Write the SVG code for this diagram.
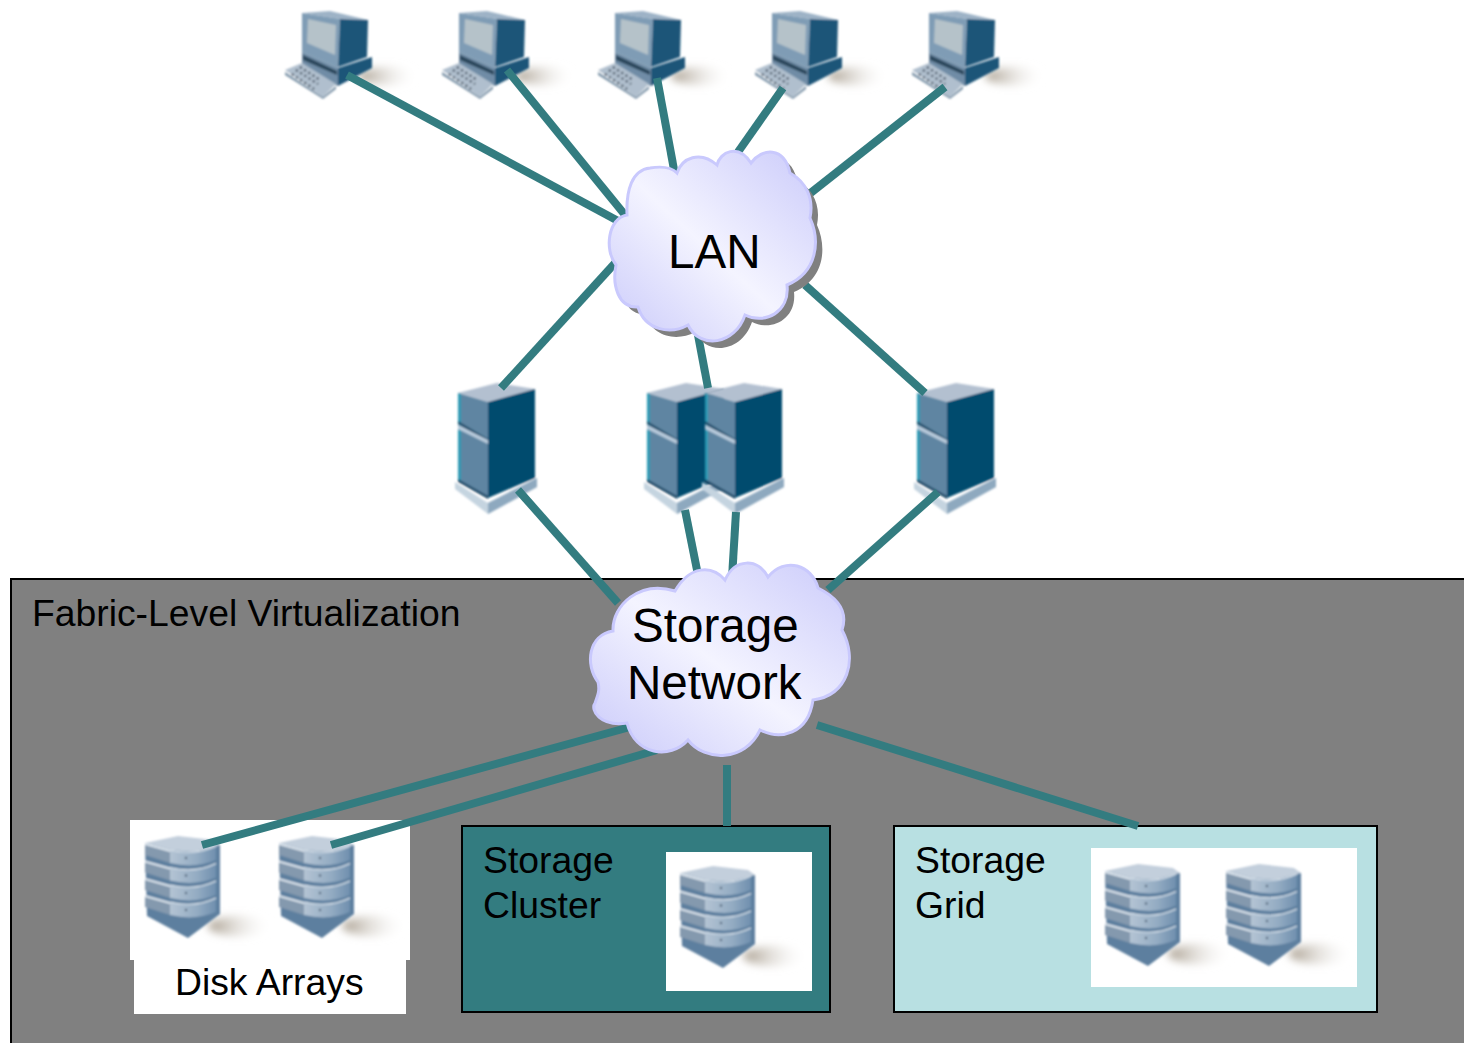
<svg xmlns="http://www.w3.org/2000/svg" xmlns:xlink="http://www.w3.org/1999/xlink" width="1464" height="1043" viewBox="0 0 1464 1043">
<style>
text{font-family:"Liberation Sans",Arial,sans-serif;fill:#000}
.big{font-size:47.6px}.mid{font-size:37.3px}
.conn line{stroke:#337c80;stroke-width:8;fill:none}
.box{stroke:#000;stroke-width:2}
.cloud{fill:url(#cg);stroke:#c9c9fd;stroke-width:3}
</style>
<defs>
<linearGradient id="cg" x1="0.95" y1="0.05" x2="0.1" y2="0.9"><stop offset="0" stop-color="#cfcffb"/><stop offset="0.55" stop-color="#f4f4ff"/><stop offset="1" stop-color="#d2d2fb"/></linearGradient>
<linearGradient id="dg" x1="0" x2="1" y1="0" y2="0"><stop offset="0" stop-color="#b4c4d4"/><stop offset="0.6" stop-color="#93abc2"/><stop offset="1" stop-color="#6f8fae"/></linearGradient>
<linearGradient id="sh" x1="0" x2="1" y1="0" y2="0"><stop offset="0" stop-color="#a59a8a"/><stop offset="1" stop-color="#fff" stop-opacity="0"/></linearGradient>
<filter id="soft" x="-10%" y="-10%" width="120%" height="120%"><feGaussianBlur stdDeviation="0.8"/></filter>
<filter id="blur" x="-30%" y="-60%" width="160%" height="220%"><feGaussianBlur stdDeviation="4"/></filter>
<g id="computer">
<ellipse cx="388" cy="76" rx="30" ry="9" fill="url(#sh)" filter="url(#blur)"/>
<g filter="url(#soft)">
<polygon points="302,13 340,19 368,20 330,11" fill="#9db2c6"/>
<polygon points="302,13 340,19 338,68 302,52" fill="#7f9cb5"/>
<polygon points="308,19 336,25 335,55 307,43" fill="#b5c2c9"/>
<polygon points="340,19 368,20 367,57 338,67" fill="#1f5478"/>
<polygon points="302,52 338,68 338,86 302,72" fill="#6f8ca6"/>
<polygon points="303,55 337,71 337,75 303,60" fill="#2a465c"/>
<polygon points="338,68 372,57 372,68 338,86" fill="#1f5478"/>
<polygon points="285,70 302,63 336,84 323,97" fill="#b0bfce"/>
<polygon points="285,72 323,97 336,86 336,89 323,99 285,75" fill="#7d94a8"/>
<path d="M296 70l22 14M292 74l22 15M300 67l20 13" stroke="#2e3d4d" stroke-width="2.2" stroke-dasharray="2 3" fill="none"/>
</g>
</g>
<g id="server" filter="url(#soft)">
<polygon points="458,393 497,383 535,389 488,402" fill="#b3c0d0"/>
<polygon points="455,482 488,503 537,478 537,487 488,514 455,489" fill="#c5d4e0"/>
<polygon points="488,503 537,478 537,487 488,514" fill="#8ea9bf"/>
<polygon points="458,393 488,402 488,498 458,480" fill="#5f85a2"/>
<polygon points="458,393 461,394 461,481 458,480" fill="#2b99b4"/>
<polygon points="458,421 488,439 488,442 458,424" fill="#234f6c"/>
<polygon points="458,425 488,440 488,444 458,429" fill="#b9cbdc"/>
<polygon points="458,479 488,496 488,499 458,482" fill="#1f4a68"/>
<polygon points="488,402 535,389 535,478 488,498" fill="#024b6e"/>
</g>
<g id="disk">
<ellipse cx="240" cy="926" rx="32" ry="10" fill="url(#sh)" filter="url(#blur)"/>
<g filter="url(#soft)">
<polygon points="145,845 220,845 220,914 188,938 147,916" fill="#5d7f9f"/>
<g id="layer">
<polygon points="145,843 170,850 170,863 145,855" fill="#8499ae"/>
<polygon points="145,843 170,850 170,852 145,845" fill="#dfe7ef"/>
<path d="M170 850Q195 856 216 846L216 860Q195 869 170 863Z" fill="url(#dg)"/>
<path d="M170 850Q195 856 216 846" stroke="#e4ecf3" stroke-width="1.2" fill="none"/>
<circle cx="186" cy="858" r="1.2" fill="#4d6377"/>
</g>
<use xlink:href="#layer" y="17.5"/>
<use xlink:href="#layer" y="35"/>
<use xlink:href="#layer" y="52"/>
<polygon points="145,843 178,836 213,840 220,845 195,852 170,850" fill="#c3cfdc"/>
</g>
</g>
</defs>
<rect width="1464" height="1043" fill="#fff"/>
<rect id="panel" class="box" x="11" y="579" width="1460" height="480" fill="#808080"/>
<g id="fabric-label"><text class="mid" x="32" y="626">Fabric-Level Virtualization</text></g>
<g id="disk-arrays"><rect x="130" y="820" width="280" height="140" fill="#fff"/><rect x="134" y="960" width="272" height="54" fill="#fff"/><use xlink:href="#disk"/><use xlink:href="#disk" x="134"/><text class="mid" x="175" y="995">Disk Arrays</text></g>
<g id="storage-cluster"><rect class="box" x="462" y="826" width="368" height="186" fill="#337c80"/><rect x="666" y="852" width="146" height="139" fill="#fff"/><use xlink:href="#disk" x="535" y="30"/><text class="mid" x="483" y="873">Storage</text><text class="mid" x="483" y="918">Cluster</text></g>
<g id="storage-grid"><rect class="box" x="894" y="826" width="483" height="186" fill="#b8e0e2"/><rect x="1091" y="848" width="266" height="139" fill="#fff"/><use xlink:href="#disk" x="960" y="28"/><use xlink:href="#disk" x="1081" y="28"/><text class="mid" x="915" y="873">Storage</text><text class="mid" x="915" y="918">Grid</text></g>
<g id="computers"><use id="pc1" xlink:href="#computer"/><use id="pc2" xlink:href="#computer" x="157"/><use id="pc3" xlink:href="#computer" x="313"/><use id="pc4" xlink:href="#computer" x="470"/><use id="pc5" xlink:href="#computer" x="627"/></g>
<g id="servers"><use id="srv1" xlink:href="#server"/><use id="srv2" xlink:href="#server" x="189"/><use id="srv3" xlink:href="#server" x="247"/><use id="srv4" xlink:href="#server" x="459"/></g>
<g id="connectors" class="conn">
<line x1="347" y1="75" x2="620" y2="222"/><line x1="507" y1="70" x2="625" y2="215"/><line x1="657" y1="78" x2="675" y2="175"/><line x1="783" y1="88" x2="738" y2="152"/><line x1="945" y1="87" x2="808" y2="195"/>
<line x1="616" y1="262" x2="501" y2="388"/><line x1="698" y1="335" x2="708" y2="388"/><line x1="805" y1="285" x2="925" y2="393"/>
<line x1="518" y1="490" x2="618" y2="603"/><line x1="685" y1="510" x2="698" y2="575"/><line x1="736" y1="512" x2="732" y2="578"/><line x1="938" y1="492" x2="828" y2="590"/>
<line x1="630" y1="727" x2="202" y2="845"/><line x1="657" y1="750" x2="331" y2="845"/><line x1="727" y1="765" x2="727" y2="826"/><line x1="817" y1="725" x2="1138" y2="826"/>
</g>
<g id="lan">
<path d="M627 215C626 190 632 170 650 168C662 166 672 168 677 173C682 158 700 150 717 165C720 152 738 143 751 163C762 148 784 146 790 173C806 182 814 198 810 218C820 240 818 272 787 285C790 312 765 325 745 315C735 345 700 350 688 325C670 335 645 330 638 307C618 308 612 285 616 265C604 250 608 218 627 215Z" fill="#808080" transform="translate(7,7)"/>
<path class="cloud" d="M627 215C626 190 632 170 650 168C662 166 672 168 677 173C682 158 700 150 717 165C720 152 738 143 751 163C762 148 784 146 790 173C806 182 814 198 810 218C820 240 818 272 787 285C790 312 765 325 745 315C735 345 700 350 688 325C670 335 645 330 638 307C618 308 612 285 616 265C604 250 608 218 627 215Z"/>
<text class="big" x="668" y="268">LAN</text>
</g>
<g id="storage-network">
<path class="cloud" d="M613 631C612 605 640 580 675 591C690 565 712 565 725 580C735 558 758 558 768 577C785 556 812 565 818 588C838 598 848 612 842 630C858 660 848 695 813 700C808 735 780 740 760 730C745 762 705 762 688 740C670 760 635 755 627 723C600 727 590 710 595 703C598 695 600 690 598 682C585 665 588 635 613 631Z"/>
<text class="big" x="632" y="642">Storage</text>
<text class="big" x="627" y="699">Network</text>
</g>
</svg>
